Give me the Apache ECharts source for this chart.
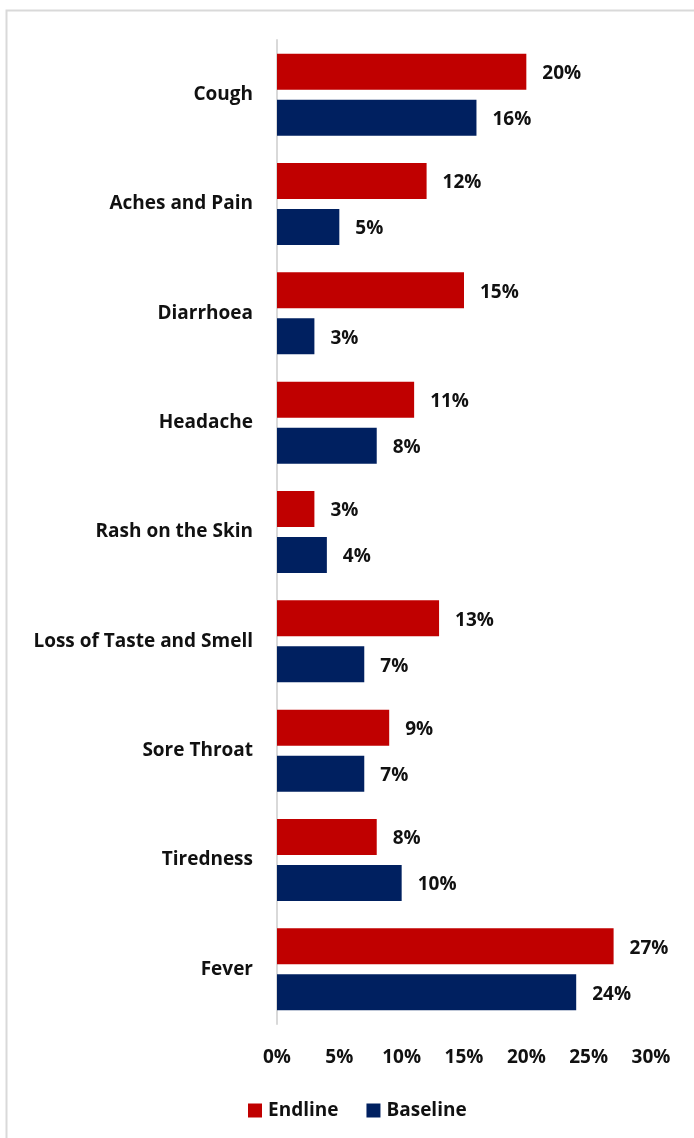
<!DOCTYPE html>
<html>
<head>
<meta charset="utf-8">
<style>
  html, body { margin: 0; padding: 0; background: #ffffff; }
  #chart { width: 694px; height: 1138px; }
</style>
<script src="https://cdn.jsdelivr.net/npm/echarts@6/dist/echarts.min.js"></script>
</head>
<body>
<div id="chart"></div>
<script>
// Reported symptoms, share of respondents (%)
const categories = [
  'Cough', 'Aches and Pain', 'Diarrhoea', 'Headache', 'Rash on the Skin',
  'Loss of Taste and Smell', 'Sore Throat', 'Tiredness', 'Fever'
];
const endline = [20, 12, 15, 11, 3, 13, 9, 8, 27];
const baseline = [16, 5, 3, 8, 4, 7, 7, 10, 24];
const seriesNames = ['Endline', 'Baseline'];
const xTicks = { min: 0, max: 30, step: 5 };

const FONT = '"Open Sans"';
const FONT_SIZE = 19;
const chart = echarts.init(document.getElementById('chart'), null, { renderer: 'canvas' });

const valueLabel = {
  show: true,
  position: 'right',
  distance: 16,
  offset: [0, 2],
  formatter: p => p.value + '%',
  fontFamily: FONT,
  fontWeight: 'bold',
  fontSize: FONT_SIZE,
  color: '#111111'
};

chart.setOption({
  backgroundColor: '#ffffff',
  animation: false,
  graphic: [
    {
      type: 'polyline',
      shape: { points: [[6.5, 1138], [6.5, 10.5], [694, 10.5]] },
      style: { stroke: '#d9d9d9', lineWidth: 2, fill: null },
      silent: true
    }
  ],
  grid: { left: 277, right: 43, top: 40, bottom: 114, containLabel: false },
  legend: {
    data: seriesNames,
    left: 243,
    top: 1096,
    itemWidth: 14,
    itemHeight: 14,
    itemGap: 28,
    icon: 'rect',
    textStyle: { fontFamily: FONT, fontWeight: 'bold', fontSize: FONT_SIZE, color: '#111111', padding: [0, 0, 0, 1] }
  },
  xAxis: {
    type: 'value',
    min: xTicks.min,
    max: xTicks.max,
    interval: xTicks.step,
    axisLine: { show: false },
    axisTick: { show: false },
    splitLine: { show: false },
    axisLabel: {
      formatter: v => v + '%',
      margin: 24,
      fontFamily: FONT,
      fontWeight: 'bold',
      fontSize: FONT_SIZE,
      color: '#111111'
    }
  },
  yAxis: {
    type: 'category',
    data: categories,
    inverse: true,
    axisLine: { show: true, lineStyle: { color: '#d9d9d9', width: 2 } },
    axisTick: { show: false },
    axisLabel: {
      margin: 24,
      fontFamily: FONT,
      fontWeight: 'bold',
      fontSize: FONT_SIZE,
      color: '#111111'
    }
  },
  series: [
    {
      name: seriesNames[0],
      type: 'bar',
      data: endline,
      barWidth: 36,
      barGap: '28%',
      itemStyle: { color: '#c00000' },
      label: valueLabel
    },
    {
      name: seriesNames[1],
      type: 'bar',
      data: baseline,
      barWidth: 36,
      barGap: '28%',
      itemStyle: { color: '#002060' },
      label: valueLabel
    }
  ]
});
</script>
</body>
</html>
